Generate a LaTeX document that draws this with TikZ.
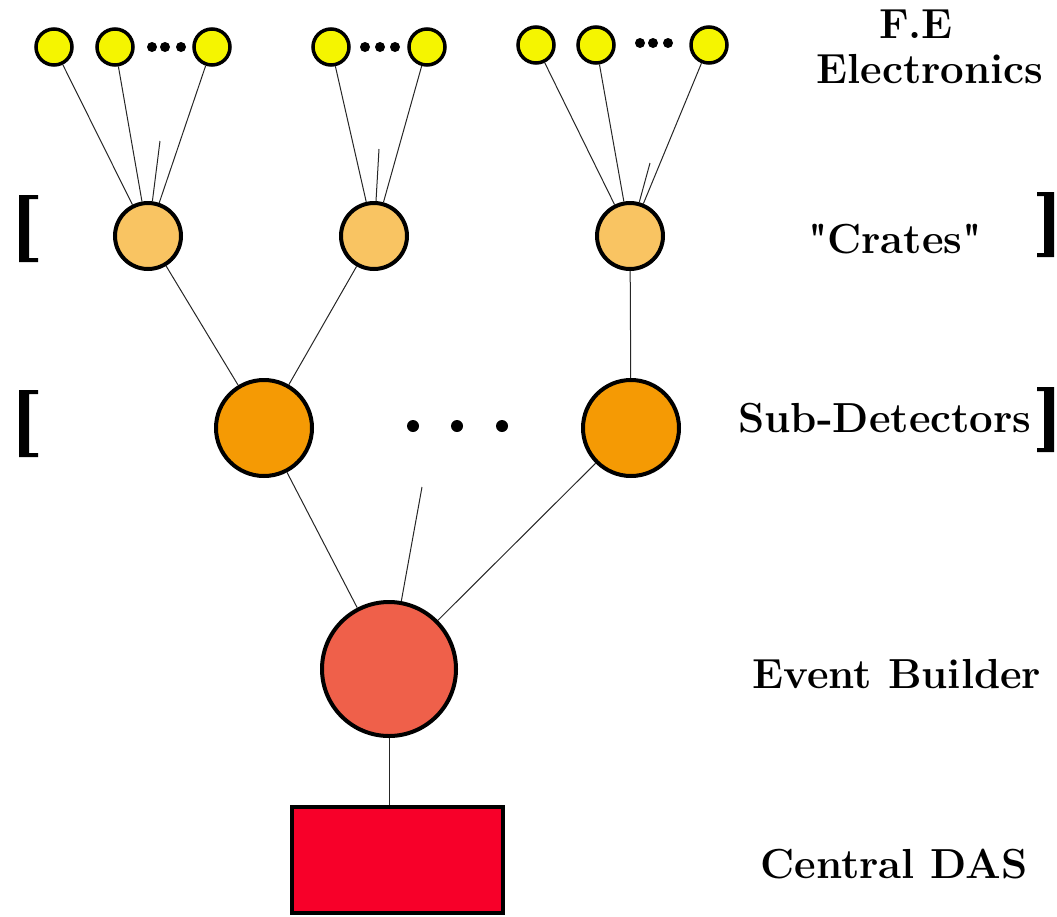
\documentclass[tikz,border=0pt]{standalone}
\definecolor{fey}{HTML}{F5F500}
\definecolor{cratec}{HTML}{F9C462}
\definecolor{subc}{HTML}{F59A04}
\definecolor{ebc}{HTML}{EF604A}
\definecolor{dasc}{HTML}{F70029}
\begin{document}
\begin{tikzpicture}[x=1pt,y=-1pt,
  fe/.style={circle,draw,line width=3.5pt,fill=fey,minimum size=36pt,inner sep=0pt},
  crate/.style={circle,draw,line width=4pt,fill=cratec,minimum size=66pt,inner sep=0pt},
  subdet/.style={circle,draw,line width=4pt,fill=subc,minimum size=96pt,inner sep=0pt},
  eb/.style={circle,draw,line width=4pt,fill=ebc,minimum size=134pt,inner sep=0pt},
  das/.style={rectangle,draw,line width=4pt,fill=dasc,minimum width=211pt,minimum height=106pt,inner sep=0pt},
  dotc/.style={circle,fill=black,minimum size=10pt,inner sep=0pt},
  bigdot/.style={circle,fill=black,minimum size=12pt,inner sep=0pt},
  link/.style={line width=1pt,draw=black!85},
  lbl/.style={font=\fontsize{42}{46}\selectfont\bfseries,inner sep=0pt},
  brk/.style={fill=black}
]
\useasboundingbox (0,0) rectangle (1057,916);
% front-end electronics
\node[fe] (f1) at (54,47) {};
\node[fe] (f2) at (115,47) {};
\node[fe] (f3) at (212,47) {};
\node[fe] (f4) at (331,47) {};
\node[fe] (f5) at (427,47) {};
\node[fe] (f6) at (536,45) {};
\node[fe] (f7) at (596,45) {};
\node[fe] (f8) at (709,45) {};
\foreach \x/\y/\n in {152/47/a1,165/47/a2,181/47/a3,365/47/b1,380/47/b2,395/47/b3,640/43/c1,653/43/c2,668/43/c3}
  \node[dotc] (d\n) at (\x,\y) {};
% crates
\node[crate] (c1) at (148,236) {};
\node[crate] (c2) at (374,236) {};
\node[crate] (c3) at (630,236) {};
% sub-detectors
\node[subdet] (s1) at (264,428) {};
\node[subdet] (s2) at (631,428) {};
\foreach \x/\n in {413/1,457/2,502/3}
  \node[bigdot] (e\n) at (\x,426) {};
% event builder and central DAS
\node[eb] (eb) at (389,669) {};
\node[das] (das) at (397.5,860) {};
% stub starts
\coordinate (t1) at (160,141);
\coordinate (t2) at (379,149);
\coordinate (t3) at (650,163);
\coordinate (t4) at (422,487);
% connectors
\draw[link] (f1) -- (c1);
\draw[link] (f2) -- (c1);
\draw[link] (f3) -- (c1);
\draw[link] (t1) -- (c1);
\draw[link] (f4) -- (c2);
\draw[link] (f5) -- (c2);
\draw[link] (t2) -- (c2);
\draw[link] (f6) -- (c3);
\draw[link] (f7) -- (c3);
\draw[link] (f8) -- (c3);
\draw[link] (t3) -- (c3);
\draw[link] (c1) -- (s1);
\draw[link] (c2) -- (s1);
\draw[link] (c3) -- (s2);
\draw[link] (s1) -- (eb);
\draw[link] (s2) -- (eb);
\draw[link] (t4) -- (eb);
\draw[link] (eb.south) -- (eb.south |- das.north);
% labels
\node[lbl] (lfe1) at (916,24) {F.E};
\node[lbl] (lfe2) at (930,69) {Electronics};
\node[lbl] (lcr) at (895,239) {\textquotedbl Crates\textquotedbl};
\node[lbl] (lsd) at (885,418) {Sub-Detectors};
\node[lbl] (leb) at (897,674) {Event Builder};
\node[lbl] (lda) at (894,864) {Central DAS};
% brackets
\fill[brk] (19,195) -- (38,195) -- (38,199) -- (29,199) -- (29,258) -- (38,258) -- (38,262) -- (19,262) -- cycle;
\fill[brk] (19,390) -- (38,390) -- (38,394) -- (29,394) -- (29,453) -- (38,453) -- (38,457) -- (19,457) -- cycle;
\fill[brk] (1054,192) -- (1037,192) -- (1037,196) -- (1044,196) -- (1044,253) -- (1037,253) -- (1037,257) -- (1054,257) -- cycle;
\fill[brk] (1054,387) -- (1037,387) -- (1037,391) -- (1044,391) -- (1044,448) -- (1037,448) -- (1037,452) -- (1054,452) -- cycle;
\end{tikzpicture}
\end{document}
